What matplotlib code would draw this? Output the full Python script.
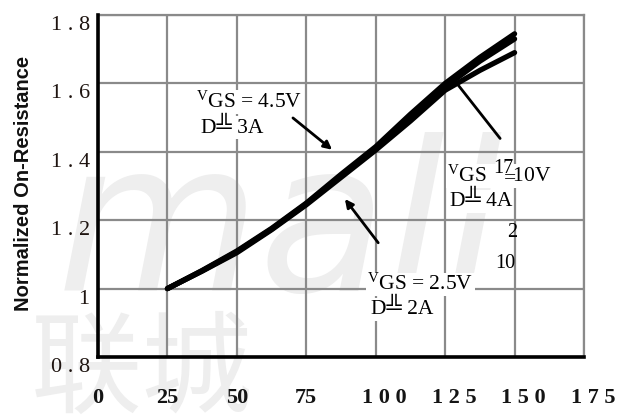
import matplotlib
matplotlib.use("Agg")
import matplotlib.pyplot as plt
import matplotlib.transforms as mtransforms

plt.rcParams['mathtext.fontset'] = 'custom'
plt.rcParams['mathtext.rm'] = 'Liberation Serif'
plt.rcParams['mathtext.it'] = 'Liberation Serif'

# ---- data ----
temps = [25, 37.5, 50, 62.5, 75, 87.5, 100, 112.5, 125, 137.5, 150]
r_10v = [1.0, 1.053, 1.11, 1.176, 1.25, 1.334, 1.415, 1.51, 1.60, 1.676, 1.745]
r_45v = [1.0, 1.052, 1.108, 1.174, 1.248, 1.33, 1.41, 1.50, 1.59, 1.665, 1.73]
r_25v = [1.0, 1.051, 1.105, 1.172, 1.245, 1.325, 1.405, 1.49, 1.58, 1.638, 1.69]

x_ticks = [0, 25, 50, 75, 100, 125, 150, 175]
x_labels = ["0", "25", "50", "75", "1 0 0", "1 2 5", "1 5 0", "1 7 5"]
y_ticks = [0.8, 1.0, 1.2, 1.4, 1.6, 1.8]
y_labels = ["0 . 8", "1", "1 . 2", "1 . 4", "1 . 6", "1 . 8"]
y_title = "Normalized On-Resistance"

fig = plt.figure(figsize=(6.25, 4.16), dpi=100)
fig.patch.set_facecolor('white')

# faint watermark behind the plot
fig.text(0.09, 0.30, "mall", fontsize=150, style='italic', color='#eeeeee',
         family='DejaVu Sans', zorder=-5)
fig.text(0.05, 0.03, "联城", fontsize=80, color='#eeeeee',
         family=['Noto Sans CJK SC', 'DejaVu Sans'], zorder=-5)

ax = fig.add_axes([98/625, 59/416, 486/625, 342/416])
ax.set_facecolor('none')

ax.set_xlim(0, 175)
ax.set_ylim(0.8, 1.8)

grid_c = '#8a8a8a'
ax.set_xticks(x_ticks)
ax.set_yticks(y_ticks)
ax.grid(True, color=grid_c, lw=1.6, zorder=0)
ax.tick_params(length=0)

for s in ['top', 'right']:
    ax.spines[s].set_color(grid_c)
    ax.spines[s].set_linewidth(1.6)
for s in ['left', 'bottom']:
    ax.spines[s].set_color('black')
    ax.spines[s].set_linewidth(2.6)
    ax.spines[s].set_zorder(6)

ax.set_xticklabels(x_labels, family='Liberation Serif', fontsize=16,
                   fontweight='bold', color='#141414')
ax.set_yticklabels(y_labels, family='Liberation Serif', fontsize=16,
                   color='#1e1410')
ax.tick_params(axis='x', pad=22)
ax.tick_params(axis='y', pad=6)

for lab in ax.get_yticklabels():
    lab.set_transform(lab.get_transform() +
                      mtransforms.ScaledTranslation(0, -8/100, fig.dpi_scale_trans))
for lab in ax.get_xticklabels():
    if len(lab.get_text()) > 3:
        lab.set_transform(lab.get_transform() +
                          mtransforms.ScaledTranslation(9/100, 0, fig.dpi_scale_trans))

fig.text(24/625, (416-183)/416, y_title, rotation=90, ha='center', va='center',
         family='Liberation Sans', fontsize=14.5, fontweight='bold', color='#111111')

# curves
for r in (r_25v, r_45v, r_10v):
    ax.plot(temps, r, color='black', lw=3.8, solid_capstyle='round',
            solid_joinstyle='round', zorder=4)

# annotations
tfam = ['Liberation Serif', 'DejaVu Sans']
bb = dict(facecolor='white', edgecolor='none', pad=1.0)
ts = 15.5
vgs = r"${}^{\mathregular{V}}$GS"

ax.text(35.4, 1.545, vgs + " = 4.5V", fontsize=ts, family=tfam,
        ha='left', va='center', bbox=bb, zorder=3)
ax.text(37.2, 1.470, "D\u2569 3A", fontsize=ts, family=tfam,
        ha='left', va='center', bbox=bb, zorder=3)

ax.text(97.0, 1.012, vgs + " = 2.5V", fontsize=ts, family=tfam,
        ha='left', va='center', bbox=bb, zorder=3)
ax.text(98.4, 0.940, "D\u2569 2A", fontsize=ts, family=tfam,
        ha='left', va='center', bbox=bb, zorder=3)
ax.text(146.5, 1.072, "10", fontsize=ts - 1, family=tfam, ha='center', va='center', zorder=3)

ax.text(125.6, 1.330, vgs + "     10V", fontsize=ts, family=tfam,
        ha='left', va='center', bbox=bb, zorder=3)
ax.text(148.2, 1.322, "=", fontsize=ts, family=tfam, ha='center', va='center', zorder=3.5)
ax.text(146.0, 1.352, "17", fontsize=ts - 1, family=tfam, ha='center', va='center', zorder=3.5)
ax.text(126.6, 1.255, "D\u2569 4A", fontsize=ts, family=tfam,
        ha='left', va='center', bbox=bb, zorder=3)
ax.text(149.0, 1.165, "2", fontsize=ts - 1, family=tfam, ha='center', va='center', zorder=3)

arrow = dict(arrowstyle='-|>', lw=2.0, color='black', mutation_scale=12,
             shrinkA=0, shrinkB=0)
ax.annotate('', xy=(84.3, 1.406), xytext=(70.2, 1.499), arrowprops=arrow, zorder=5)
ax.annotate('', xy=(88.9, 1.262), xytext=(100.9, 1.134), arrowprops=arrow, zorder=5)
ax.annotate('', xy=(129.8, 1.594), xytext=(144.8, 1.439),
            arrowprops=dict(arrowstyle='-', lw=2.0, color='black',
                            shrinkA=0, shrinkB=0), zorder=5)

fig.savefig("out.png", dpi=100)
